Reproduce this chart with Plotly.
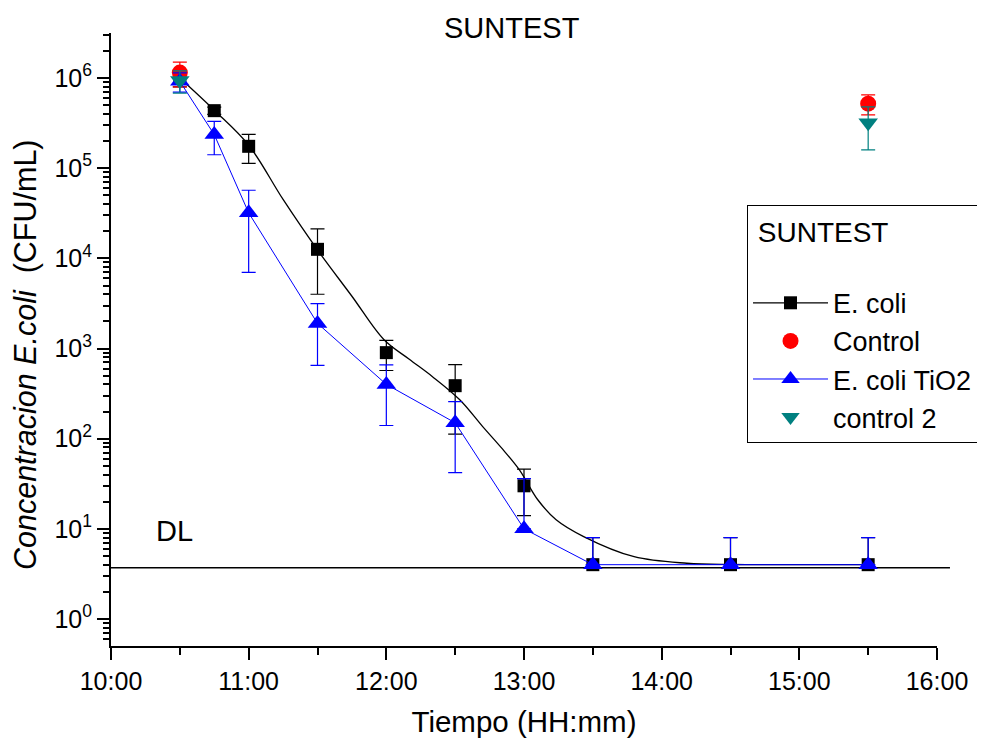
import plotly.graph_objects as go

DAY = "2000-01-01 "

# E. coli (black squares)
ecoli_times = ["10:30", "10:45", "11:00", "11:30", "12:00", "12:30", "13:00", "13:30", "14:30", "15:30"]
ecoli_vals = [1.0e6, 4.35e5, 1.75e5, 1.26e4, 900, 387, 30, 4.0, 4.0, 4.0]
ecoli_err_plus = [2.0e5, 4.0e4, 6.2e4, 8.6e3, 330, 275, 16, 4.0, 4.0, 4.0]
ecoli_err_minus = [2.0e5, 4.0e4, 6.2e4, 8.6e3, 330, 275, 16, 0, 0, 0]

# fitted curve through E. coli
fit_times = ["10:30", "10:45", "11:00", "11:15", "11:30", "11:45", "11:59", "12:10", "12:20",
             "12:32", "12:42", "12:50", "12:58", "13:06", "13:14", "13:26", "13:48", "14:11",
             "14:31", "15:00", "15:30"]
fit_vals = [1.0e6, 4.4e5, 1.8e5, 4.5e4, 1.24e4, 3.8e3, 1.25e3, 760, 490,
            270, 136, 80, 45, 21, 12.6, 8.2, 4.9, 4.15,
            4.02, 4.0, 4.0]

# Control (red circles)
control_times = ["10:30", "15:30"]
control_vals = [1.15e6, 5.2e5]
control_err = [3.5e5, 1.3e5]

# E. coli TiO2 (blue triangles)
tio2_times = ["10:30", "10:45", "11:00", "11:30", "12:00", "12:30", "13:00", "13:30", "14:30", "15:30"]
tio2_vals = [9.2e5, 2.36e5, 3.2e4, 1.9e3, 400, 150, 10, 4.0, 4.0, 4.0]
tio2_err_plus = [2.2e5, 9.5e4, 2.5e4, 1.25e3, 260, 108, 26, 4.0, 4.0, 4.0]
tio2_err_minus = [2.2e5, 9.5e4, 2.5e4, 1.25e3, 260, 108, 0, 0, 0, 0]

# control 2 (teal down triangles)
control2_times = ["10:30", "15:30"]
control2_vals = [9.4e5, 3.2e5]
control2_err = [2.6e5, 1.6e5]

DL = 3.7

y_tick_vals = [1, 10, 100, 1000, 1e4, 1e5, 1e6]
y_tick_text = ["10<sup>0</sup>", "10<sup>1</sup>", "10<sup>2</sup>", "10<sup>3</sup>",
               "10<sup>4</sup>", "10<sup>5</sup>", "10<sup>6</sup>"]
y_minor_vals = [m * 10 ** k for k in range(-1, 7) for m in range(2, 10)]

FONT = "Liberation Sans, Arial, sans-serif"


def t(seq):
    return [DAY + s for s in seq]


fig = go.Figure()

# fitted curve
fig.add_trace(go.Scatter(
    x=t(fit_times), y=fit_vals, mode="lines",
    line=dict(color="black", width=1.3, shape="spline", smoothing=1.0),
    showlegend=False, hoverinfo="skip"))

# E. coli markers
fig.add_trace(go.Scatter(
    x=t(ecoli_times), y=ecoli_vals, mode="markers",
    marker=dict(symbol="square", size=13, color="black"),
    error_y=dict(type="data", symmetric=False, array=ecoli_err_plus,
                 arrayminus=ecoli_err_minus, color="black", thickness=1.2, width=7),
    showlegend=False))

# legend entry for E. coli (line + marker)
fig.add_trace(go.Scatter(
    x=[None], y=[None], mode="lines+markers", name="E. coli",
    line=dict(color="black", width=1.3),
    marker=dict(symbol="square", size=13, color="black"),
    legendrank=1))

fig.add_trace(go.Scatter(
    x=t(control_times), y=control_vals, mode="markers", name="Control",
    marker=dict(symbol="circle", size=16, color="#FF0000"),
    error_y=dict(type="data", array=control_err, color="#FF0000", thickness=1.2, width=7),
    legendrank=2))

fig.add_trace(go.Scatter(
    x=t(tio2_times), y=tio2_vals, mode="lines+markers", name="E. coli TiO2",
    line=dict(color="#0000FF", width=1),
    marker=dict(symbol="triangle-up", size=17, color="#0000FF"),
    error_y=dict(type="data", symmetric=False, array=tio2_err_plus,
                 arrayminus=tio2_err_minus, color="#0000FF", thickness=1.2, width=7),
    legendrank=3))

fig.add_trace(go.Scatter(
    x=t(control2_times), y=control2_vals, mode="markers", name="control 2",
    marker=dict(symbol="triangle-down", size=17, color="#008080"),
    error_y=dict(type="data", array=control2_err, color="#008080", thickness=1.2, width=7),
    legendrank=4))

fig.add_shape(type="line", xref="paper", x0=0, x1=1.0157, yref="y", y0=DL, y1=DL,
              line=dict(color="black", width=1.5), layer="below")

fig.add_annotation(text="DL", xref="paper", yref="paper", x=0.077, y=0.188,
                   xanchor="center", yanchor="middle", showarrow=False,
                   font=dict(size=29, color="black", family=FONT))
fig.add_annotation(text="SUNTEST", xref="paper", yref="paper", x=0.4852, y=1.008,
                   xanchor="center", yanchor="middle", showarrow=False,
                   font=dict(size=29, color="black", family=FONT))
fig.add_annotation(text="<i>Concentracion E.coli</i>  (CFU/mL)", xref="paper", yref="paper",
                   x=-0.1041, y=0.4747, textangle=-90,
                   xanchor="center", yanchor="middle", showarrow=False,
                   font=dict(size=30.5, color="black", family=FONT))

fig.update_layout(
    width=977, height=730,
    margin=dict(l=103, r=48, t=25, b=92, autoexpand=False),
    paper_bgcolor="white", plot_bgcolor="white",
    font=dict(family=FONT, size=25, color="black"),
    legend=dict(
        x=0.77, y=0.7195, xanchor="left", yanchor="top",
        bordercolor="black", borderwidth=1, bgcolor="white",
        title=dict(text="&nbsp;SUNTEST<br> ", font=dict(size=28)),
        font=dict(size=27), itemwidth=75,
    ),
    xaxis=dict(
        type="date", range=[DAY + "10:00", DAY + "16:00"],
        tickformat="%H:%M", dtick=3600000, tick0=DAY + "10:00",
        ticks="outside", ticklen=12, tickwidth=2, tickcolor="black",
        showline=True, linecolor="black", linewidth=2,
        showgrid=False, zeroline=False, automargin=False,
        minor=dict(dtick=1800000, ticks="outside", ticklen=7, tickwidth=2,
                   tickcolor="black", showgrid=False),
        title=dict(text="Tiempo (HH:mm)", font=dict(size=29.5), standoff=20),
        tickfont=dict(size=25),
    ),
    yaxis=dict(
        type="log", range=[-0.3, 6.5],
        tickmode="array", tickvals=y_tick_vals, ticktext=y_tick_text,
        ticks="outside", ticklen=12, tickwidth=2, tickcolor="black",
        showline=True, linecolor="black", linewidth=2,
        showgrid=False, zeroline=False, automargin=False,
        minor=dict(tickmode="array", tickvals=y_minor_vals, ticks="outside",
                   ticklen=6, tickwidth=2, tickcolor="black", showgrid=False),
        tickfont=dict(size=25),
    ),
)

fig.write_html("out.html")
